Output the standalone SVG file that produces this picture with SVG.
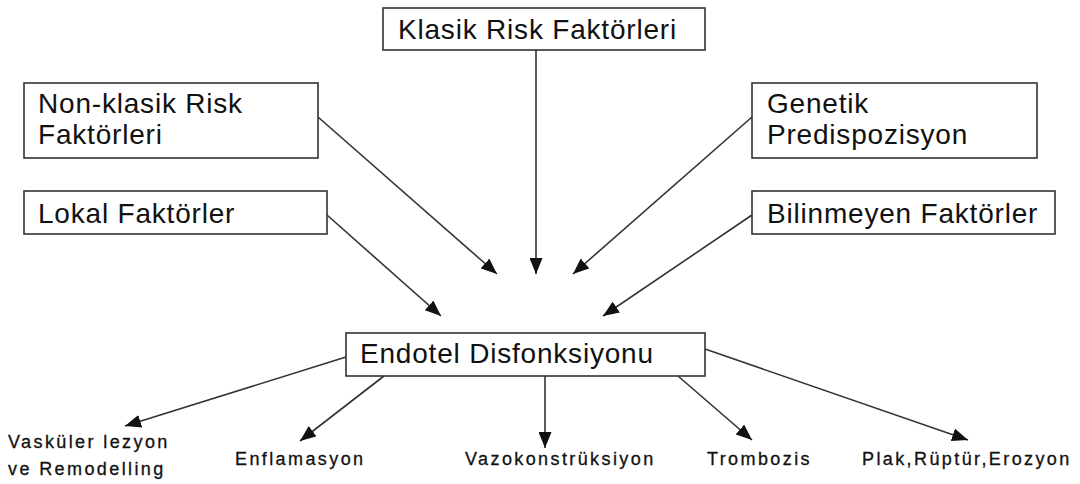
<svg xmlns="http://www.w3.org/2000/svg" width="1080" height="484" viewBox="0 0 1080 484">
<style>
.box{fill:#fff;stroke:#333;stroke-width:1.6}
.t{font-family:"Liberation Sans",Arial,sans-serif;font-size:28px;letter-spacing:0.8px;fill:#111}
.s{font-family:"Liberation Sans",Arial,sans-serif;font-size:18px;letter-spacing:2.4px;fill:#111;stroke:#111;stroke-width:0.3}
.c{stroke:#333;stroke-width:1.6;fill:none;marker-end:url(#ah)}
</style>
<defs>
<marker id="ah" markerUnits="userSpaceOnUse" markerWidth="17" markerHeight="13" refX="16" refY="6.5" orient="auto">
<path d="M0,0 L16,6.5 L0,13 Z" fill="#111"/>
</marker>
</defs>
<rect width="1080" height="484" fill="#fff"/>
<g id="connectors">
<line class="c" x1="536" y1="50" x2="536" y2="274"/>
<line class="c" x1="318" y1="117" x2="497" y2="274"/>
<line class="c" x1="752" y1="117" x2="573" y2="274"/>
<line class="c" x1="327" y1="215" x2="441" y2="316"/>
<line class="c" x1="752" y1="215" x2="603" y2="316"/>
<line class="c" x1="346" y1="357" x2="125" y2="426"/>
<line class="c" x1="384" y1="376" x2="300" y2="441"/>
<line class="c" x1="545" y1="376" x2="545" y2="448"/>
<line class="c" x1="678" y1="376" x2="752" y2="440"/>
<line class="c" x1="705" y1="349" x2="968" y2="440"/>
</g>
<g id="klasik">
<rect class="box" x="383" y="8" width="322" height="42"/>
<text class="t" x="398" y="39">Klasik Risk Faktörleri</text>
</g>
<g id="nonklasik">
<rect class="box" x="24" y="83" width="294" height="75"/>
<text class="t" x="38" y="113">Non-klasik Risk</text>
<text class="t" x="38" y="144">Faktörleri</text>
</g>
<g id="genetik">
<rect class="box" x="752" y="83" width="285" height="75"/>
<text class="t" x="767" y="113">Genetik</text>
<text class="t" x="767" y="144">Predispozisyon</text>
</g>
<g id="lokal">
<rect class="box" x="24" y="191" width="303" height="43"/>
<text class="t" x="38" y="223">Lokal Faktörler</text>
</g>
<g id="bilinmeyen">
<rect class="box" x="752" y="191" width="303" height="43"/>
<text class="t" x="767" y="223">Bilinmeyen Faktörler</text>
</g>
<g id="endotel">
<rect class="box" x="346" y="333" width="359" height="43"/>
<text class="t" x="360" y="363">Endotel Disfonksiyonu</text>
</g>
<g id="vaskuler">
<text class="s" x="8" y="448">Vasküler lezyon</text>
<text class="s" x="8" y="475">ve Remodelling</text>
</g>
<g id="enflamasyon"><text class="s" x="235" y="465">Enflamasyon</text></g>
<g id="vazokonstruksiyon"><text class="s" x="465" y="465">Vazokonstrüksiyon</text></g>
<g id="trombozis"><text class="s" x="707" y="465">Trombozis</text></g>
<g id="plak"><text class="s" x="862" y="465">Plak,Rüptür,Erozyon</text></g>
</svg>
